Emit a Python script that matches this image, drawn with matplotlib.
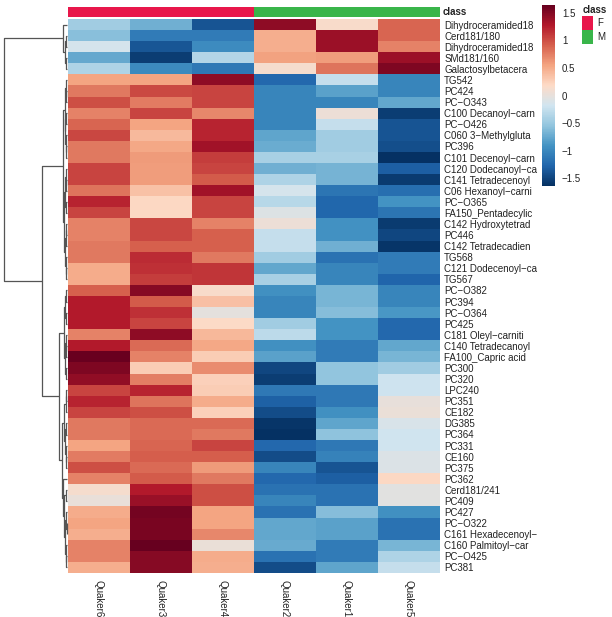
import matplotlib.pyplot as plt
import numpy as np
from matplotlib.colors import LinearSegmentedColormap, ListedColormap
from matplotlib.patches import Rectangle

plt.rcParams['font.family'] = ['Liberation Sans', 'DejaVu Sans']

rows = ['Dihydroceramided18', 'Cerd181/180', 'Dihydroceramided18', 'SMd181/160',
        'Galactosylbetacera', 'TG542', 'PC424', 'PC\u2212O343', 'C100 Decanoyl\u2212carn',
        'PC\u2212O426', 'C060 3\u2212Methylgluta', 'PC396', 'C101 Decenoyl\u2212carn',
        'C120 Dodecanoyl\u2212ca', 'C141 Tetradecenoyl', 'C06 Hexanoyl\u2212carni',
        'PC\u2212O365', 'FA150_Pentadecylic', 'C142 Hydroxytetrad', 'PC446',
        'C142 Tetradecadien', 'TG568', 'C121 Dodecenoyl\u2212ca', 'TG567', 'PC\u2212O382',
        'PC394', 'PC\u2212O364', 'PC425', 'C181 Oleyl\u2212carniti', 'C140 Tetradecanoyl',
        'FA100_Capric acid', 'PC300', 'PC320', 'LPC240', 'PC351', 'CE182', 'DG385',
        'PC364', 'PC331', 'CE160', 'PC375', 'PC362', 'Cerd181/241', 'PC409', 'PC427',
        'PC\u2212O322', 'C161 Hexadecenoyl\u2212', 'C160 Palmitoyl\u2212car', 'PC\u2212O425',
        'PC381']
samples = ['Quaker6', 'Quaker3', 'Quaker4', 'Quaker2', 'Quaker1', 'Quaker5']
groups = ['F', 'F', 'F', 'M', 'M', 'M']

quaker6 = [-0.45, -0.58, -0.15, -0.75, -0.38, 0.55, 0.78, 1.00, 0.72, 0.88,
           1.03, 0.78, 0.78, 1.05, 1.05, 0.80, 1.22, 1.05, 0.72, 0.72,
           0.78, 0.78, 0.50, 0.50, 0.90, 1.27, 1.27, 1.27, 0.72, 1.27,
           1.62, 1.52, 1.43, 1.05, 1.22, 1.05, 0.78, 0.78, 0.55, 0.76,
           1.00, 0.72, 0.12, 0.02, 0.50, 0.55, 0.48, 0.72, 0.72, 0.48]
quaker3 = [-0.70, -1.10, -1.38, -1.55, -0.98, 0.55, 1.02, 0.76, 1.05, 0.55,
           0.40, 0.52, 0.60, 0.58, 0.58, 0.35, 0.20, 0.20, 1.03, 1.03,
           0.90, 1.18, 1.15, 1.08, 1.48, 0.93, 1.15, 1.05, 1.45, 0.85,
           0.72, 0.28, 0.75, 1.22, 0.80, 1.00, 0.85, 0.85, 0.88, 0.92,
           0.85, 0.93, 1.27, 1.40, 1.57, 1.55, 1.55, 1.64, 1.48, 1.48]
quaker4 = [-1.40, -1.10, -0.97, -0.35, -1.12, 1.45, 1.05, 1.05, 0.70, 1.22,
           1.22, 1.35, 1.08, 1.05, 0.93, 1.35, 1.05, 1.05, 0.72, 0.90,
           0.90, 0.78, 1.12, 1.12, 0.15, 0.37, -0.02, 0.18, 0.42, 0.52,
           0.28, 0.68, 0.25, 0.28, 0.50, 0.25, 0.85, 0.78, 1.05, 0.92,
           0.60, 0.78, 1.00, 1.00, 0.55, 0.55, 0.70, 0.03, 0.50, 0.48]
quaker2 = [1.45, 0.48, 0.48, 0.56, 0.12, -1.25, -1.02, -1.02, -1.02, -1.02,
           -0.78, -0.72, -0.42, -0.70, -0.38, -0.15, -0.33, -0.08, 0.05, -0.25,
           -0.25, -0.45, -0.77, -0.42, -0.93, -1.02, -1.02, -0.45, -0.30, -0.93,
           -0.80, -1.48, -1.55, -1.12, -1.30, -1.45, -1.60, -1.63, -1.25, -1.45,
           -1.02, -1.25, -1.18, -1.02, -1.18, -0.76, -0.76, -0.74, -1.18, -1.45]
quaker1 = [0.15, 1.38, 1.38, 0.58, 0.80, -0.25, -0.80, -1.02, 0.05, -0.25,
           -0.45, -0.45, -0.42, -0.68, -0.68, -1.15, -1.27, -1.27, -0.92, -0.92,
           -0.70, -1.18, -1.02, -1.02, -0.66, -0.66, -0.60, -0.90, -0.90, -1.10,
           -1.10, -0.55, -0.55, -1.12, -1.12, -0.93, -0.78, -0.56, -1.12, -1.05,
           -1.40, -1.32, -1.18, -1.18, -0.60, -0.80, -0.80, -1.10, -1.10, -0.78]
quaker5 = [0.88, 0.88, 0.72, 1.38, 1.52, -1.02, -1.02, -0.76, -1.55, -1.40,
           -1.40, -1.43, -1.62, -1.32, -1.56, -1.20, -0.90, -1.15, -1.56, -1.48,
           -1.60, -1.10, -1.10, -1.28, -1.02, -1.02, -0.88, -1.25, -1.25, -0.77,
           -0.66, -0.45, -0.20, -0.20, 0.00, 0.03, -0.12, -0.18, -0.18, -0.10,
           -0.10, 0.20, -0.05, -0.05, -0.93, -1.18, -1.18, -0.66, -0.38, -0.25]

# row dendrogram as nested merges: (height, left, right); leaves are row numbers
c1 = (4.0, 0, (2.5, (1.0, 1, 2), (1.5, 3, 4)))
top_l = (2.5, (1.5, 5, (0.8, 6, 7)), (1.8, (1.0, 8, 9), (1.2, 10, (0.6, 11, 12))))
top_r = (3.0, (2.0, (1.2, 13, (0.7, 14, 15)), (1.5, 16, 17)),
         (2.2, (1.3, (0.6, 18, 19), 20), (1.4, 21, (0.7, 22, 23))))
bot_l = (3.5, (2.0, (1.0, 24, 25), (1.3, 26, 27)),
         (2.5, (1.2, 28, (0.6, 29, 30)), (1.0, 31, 32)))
bot_r = (5.0, (3.0, (1.5, (0.8, 33, 34), 35), (2.0, (1.0, 36, 37), (1.2, 38, (0.6, 39, 40)))),
         (4.0, 41, (3.0, (1.5, 42, 43), (2.0, (1.0, 44, (0.5, 45, 46)), (1.2, 47, (0.7, 48, 49))))))
tree = (63.0, c1, (25.0, (4.0, top_l, top_r), (8.0, bot_l, bot_r)))

data = np.column_stack([quaker6, quaker3, quaker4, quaker2, quaker1, quaker5])
vlim = 1.645
cmap = LinearSegmentedColormap.from_list('rdbu', [
    '#053061', '#2166AC', '#4393C3', '#92C5DE', '#D1E5F0',
    '#FDDBC7', '#F4A582', '#D6604D', '#B2182B', '#67001F'], N=256)
group_colors = {'F': '#E8174B', 'M': '#39B54A'}

W, H = 612, 617
fig = plt.figure(figsize=(W / 100, H / 100), dpi=100)


def box(x0, y0, x1, y1):
    return fig.add_axes([x0 / W, 1 - y1 / H, (x1 - x0) / W, (y1 - y0) / H])


# heatmap
ax = box(68, 19, 440, 573)
im = ax.imshow(data, cmap=cmap, vmin=-vlim, vmax=vlim, aspect='auto', interpolation='nearest')
ax.yaxis.tick_right()
ax.set_yticks(range(len(rows)))
ax.set_yticklabels(rows, fontsize=7, color='#222222')
ax.set_xticks(range(len(samples)))
ax.set_xticklabels(samples, rotation=270, fontsize=7, color='#222222', va='top')
ax.tick_params(length=0, pad=3)
ax.tick_params(axis='x', pad=5)
for s in ax.spines.values():
    s.set_visible(False)

# class annotation bar
ax2 = box(68, 6.7, 440, 16.7)
codes = [[sorted(group_colors).index(g) for g in groups]]
ax2.imshow(codes, cmap=ListedColormap([group_colors[k] for k in sorted(group_colors)]),
           aspect='auto', interpolation='nearest')
ax2.set_xticks([])
ax2.set_yticks([])
for s in ax2.spines.values():
    s.set_visible(False)
ax2.text(1.008, 0.5, 'class', transform=ax2.transAxes, fontsize=7, fontweight='bold',
         va='center', ha='left', color='#222222')

# dendrogram
axd = box(4, 19, 67, 573)


def draw(node):
    if not isinstance(node, tuple):
        return node + 0.5, 0.0
    h, left, right = node
    yl, hl = draw(left)
    yr, hr = draw(right)
    axd.plot([hl, h, h, hr], [yl, yl, yr, yr], color='#555555', lw=0.9,
             clip_on=False, solid_capstyle='butt')
    return (yl + yr) / 2, h


draw(tree)
axd.set_xlim(tree[0], 0)
axd.set_ylim(len(rows), 0)
axd.axis('off')

# colorbar
cax = box(542, 5, 555, 186)
ticks = [-1.5, -1, -0.5, 0, 0.5, 1, 1.5]
cb = fig.colorbar(im, cax=cax, ticks=ticks)
cb.ax.set_yticklabels([('%g' % t).replace('-', '\u2212') for t in ticks])
cb.outline.set_visible(False)
cb.ax.tick_params(length=0, labelsize=7, pad=5, labelcolor='#222222')

# legend for class
fig.text(583 / W, 1 - 5 / H, 'class', fontsize=7, fontweight='bold', va='top', ha='left',
         color='#222222')
for i, g in enumerate(sorted(group_colors)):
    y0 = 15.7 + i * 14.3
    fig.add_artist(Rectangle((582 / W, 1 - (y0 + 14.3) / H), 10.5 / W, 14.3 / H,
                             transform=fig.transFigure, color=group_colors[g], lw=0))
    fig.text(597 / W, 1 - (y0 + 7.2) / H, g, fontsize=7, va='center', ha='left',
             color='#222222')

fig.savefig('out.png', dpi=100)
